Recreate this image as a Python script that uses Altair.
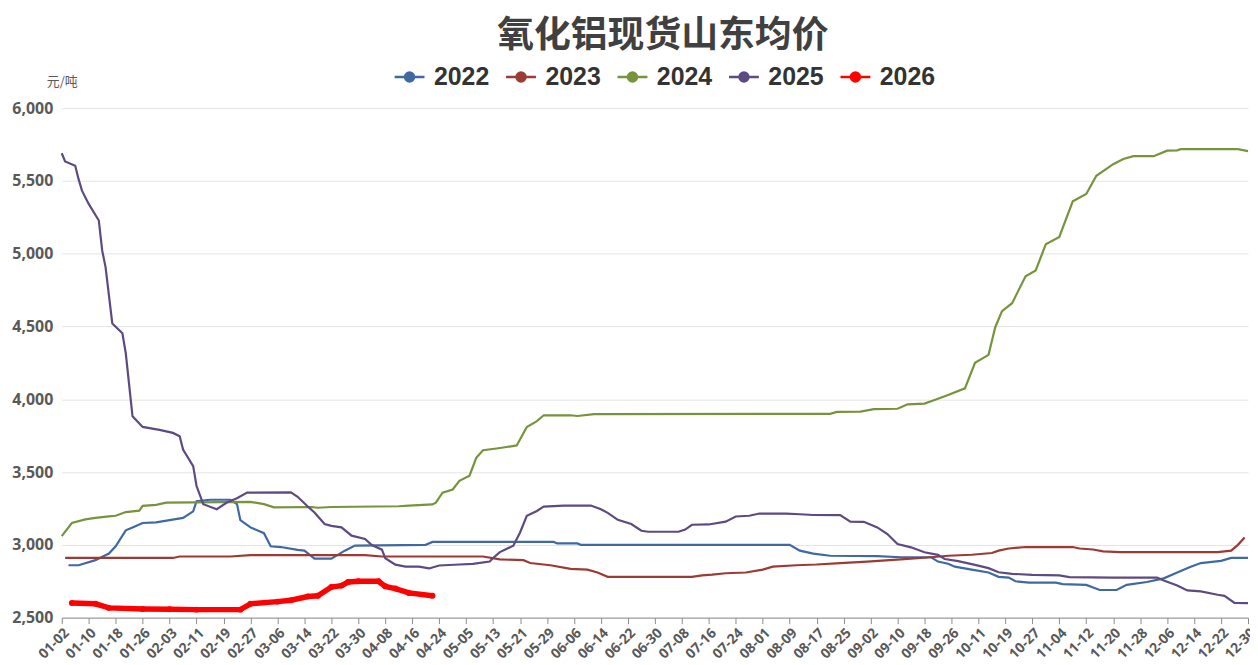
import datetime
import altair as alt
import pandas as pd

# ---------------- data ----------------
years = ["2022", "2023", "2024", "2025", "2026"]
colors = ["#3F69A3", "#9C3B35", "#77933C", "#5E4A82", "#FF0000"]

tick_labels = ["01-02", "01-10", "01-18", "01-26", "02-03", "02-11", "02-19", "02-27",
               "03-06", "03-14", "03-22", "03-30", "04-08", "04-16", "04-24", "05-05",
               "05-13", "05-21", "05-29", "06-06", "06-14", "06-22", "06-30", "07-08",
               "07-16", "07-24", "08-01", "08-09", "08-17", "08-25", "09-02", "09-10",
               "09-18", "09-26", "10-11", "10-19", "10-27", "11-04", "11-12", "11-20",
               "11-28", "12-06", "12-14", "12-22", "12-30"]

holidays = ["04-05", "05-01", "05-02", "05-03", "10-01", "10-02", "10-03", "10-04",
            "10-05", "10-06", "10-07"]

dates_2022 = ["01-04", "01-07", "01-12", "01-16", "01-18", "01-21", "01-23", "01-26", "01-30",
              "02-03", "02-07", "02-10", "02-11", "02-15", "02-21", "02-23", "02-24", "02-27",
              "03-02", "03-04", "03-07", "03-12", "03-14", "03-17", "03-22", "03-26", "03-29",
              "04-20", "04-22", "05-31", "06-01", "06-07", "06-08", "08-09", "08-12", "08-16",
              "08-21", "09-04", "09-11", "09-20", "09-22", "09-25", "09-27", "10-09", "10-14",
              "10-17", "10-20", "10-22", "10-26", "11-03", "11-05", "11-12", "11-16", "11-21",
              "11-24", "11-30", "12-05", "12-09", "12-13", "12-16", "12-22", "12-25", "12-30"]
vals_2022 = [2860, 2860, 2895, 2940, 2990, 3100, 3120, 3150, 3155,
             3170, 3185, 3230, 3300, 3310, 3310, 3280, 3170, 3120,
             3080, 2990, 2985, 2965, 2960, 2905, 2905, 2960, 2995,
             3000, 3020, 3020, 3010, 3010, 3000, 3000, 2960, 2940,
             2925, 2922, 2915, 2915, 2885, 2870, 2850, 2830, 2810,
             2780, 2775, 2750, 2740, 2740, 2730, 2725, 2690, 2690,
             2725, 2745, 2770, 2810, 2850, 2875, 2890, 2910, 2910]

dates_2023 = ["01-03", "02-04", "02-06", "02-21", "02-27", "04-01", "04-07", "05-10", "05-15",
              "05-22", "05-24", "05-30", "06-05", "06-10", "06-13", "06-16", "07-11", "07-14",
              "07-17", "07-21", "07-27", "08-01", "08-04", "08-11", "08-17", "08-24", "09-01",
              "09-11", "09-20", "09-25", "10-09", "10-15", "10-17", "10-20", "10-25", "11-08",
              "11-10", "11-14", "11-17", "11-22", "12-21", "12-25", "12-27", "12-29"]
vals_2023 = [2910, 2910, 2920, 2920, 2930, 2930, 2920, 2920, 2900,
             2895, 2875, 2860, 2835, 2830, 2810, 2780, 2780, 2790,
             2795, 2805, 2810, 2830, 2850, 2860, 2865, 2875, 2885,
             2900, 2915, 2925, 2932, 2944, 2960, 2975, 2985, 2985,
             2975, 2968, 2955, 2950, 2950, 2960, 3000, 3050]

dates_2024 = ["01-02", "01-05", "01-09", "01-12", "01-16", "01-18", "01-21", "01-25", "01-26",
              "01-30", "02-02", "02-27", "03-02", "03-05", "03-16", "03-18", "03-22", "04-12",
              "04-15", "04-22", "04-23", "04-25", "04-28", "04-30", "05-06", "05-08", "05-10",
              "05-14", "05-17", "05-20", "05-23", "05-26", "05-28", "06-05", "06-07", "06-12",
              "08-21", "08-23", "08-30", "09-03", "09-10", "09-13", "09-18", "09-21", "09-25",
              "09-30", "10-10", "10-14", "10-16", "10-18", "10-21", "10-25", "10-28", "10-31",
              "11-04", "11-08", "11-12", "11-15", "11-20", "11-23", "11-26", "12-02", "12-06",
              "12-09", "12-10", "12-27", "12-30"]
vals_2024 = [3060, 3150, 3175, 3185, 3195, 3200, 3225, 3235, 3268,
             3275, 3290, 3295, 3280, 3258, 3260, 3255, 3260, 3265,
             3270, 3278, 3290, 3358, 3380, 3440, 3475, 3598, 3650,
             3662, 3672, 3683, 3810, 3850, 3890, 3890, 3885, 3898,
             3900, 3913, 3915, 3932, 3935, 3965, 3970, 3995, 4030,
             4075, 4250, 4305, 4495, 4605, 4660, 4845, 4885, 5065,
             5115, 5360, 5410, 5535, 5615, 5650, 5670, 5670, 5708,
             5710, 5718, 5718, 5705]

dates_2025 = ["01-02", "01-03", "01-06", "01-07", "01-08", "01-10", "01-13", "01-14", "01-15",
              "01-17", "01-20", "01-21", "01-23", "01-26", "01-31", "02-04", "02-06", "02-07",
              "02-10", "02-11", "02-13", "02-17", "02-20", "02-23", "02-26", "03-10", "03-12",
              "03-15", "03-17", "03-20", "03-22", "03-25", "03-28", "04-01", "04-03", "04-07",
              "04-08", "04-11", "04-14", "04-18", "04-21", "04-24", "04-30", "05-07", "05-12",
              "05-13", "05-15", "05-19", "05-21", "05-23", "05-26", "05-28", "06-03", "06-11",
              "06-14", "06-16", "06-19", "06-23", "06-26", "06-28", "07-07", "07-09", "07-11",
              "07-16", "07-21", "07-24", "07-28", "07-31", "08-08", "08-12", "08-16", "08-24",
              "08-27", "08-31", "09-04", "09-07", "09-10", "09-14", "09-18", "09-22", "09-24",
              "09-28", "10-10", "10-14", "10-17", "10-21", "10-27", "11-04", "11-07", "11-20",
              "12-03", "12-05", "12-09", "12-12", "12-16", "12-21", "12-23", "12-26", "12-30"]
vals_2025 = [5690, 5633, 5604, 5512, 5433, 5342, 5228, 5022, 4908,
             4521, 4453, 4316, 3883, 3810, 3790, 3769, 3746, 3655,
             3541, 3404, 3279, 3245, 3291, 3320, 3359, 3360, 3330,
             3263, 3222, 3143, 3130, 3120, 3063, 3040, 2999, 2967,
             2908, 2864, 2851, 2850, 2838, 2858, 2865, 2869, 2885,
             2910, 2950, 2994, 3085, 3199, 3233, 3263, 3270, 3270,
             3245, 3220, 3172, 3143, 3097, 3090, 3090, 3105, 3138,
             3140, 3159, 3195, 3200, 3215, 3215, 3210, 3205, 3204,
             3160, 3158, 3120, 3074, 3006, 2983, 2949, 2931, 2903,
             2888, 2862, 2840, 2812, 2801, 2794, 2790, 2778, 2775,
             2775, 2755, 2721, 2687, 2680, 2657, 2650, 2602, 2600]

dates_2026 = ["01-05", "01-12", "01-16", "01-26", "02-03", "02-11", "02-24", "02-27", "03-06",
              "03-10", "03-15", "03-18", "03-22", "03-25", "03-27", "03-30", "04-06", "04-08",
              "04-11", "04-15", "04-22"]
vals_2026 = [2600, 2595, 2567, 2560, 2557, 2555, 2555, 2595, 2610,
             2620, 2645, 2650, 2710, 2720, 2745, 2750, 2750, 2715,
             2700, 2670, 2650]

# category axis: every calendar day (leap year) except days closed in every year
categories = []
d = datetime.date(2024, 1, 2)
while d <= datetime.date(2024, 12, 30):
    s = d.strftime("%m-%d")
    if s not in holidays:
        categories.append(s)
    d += datetime.timedelta(days=1)

series = {"2022": (dates_2022, vals_2022), "2023": (dates_2023, vals_2023),
          "2024": (dates_2024, vals_2024), "2025": (dates_2025, vals_2025),
          "2026": (dates_2026, vals_2026)}
rows = []
for y, (ds, vs) in series.items():
    for dd, v in zip(ds, vs):
        rows.append({"date": dd, "value": v, "year": y})
df = pd.DataFrame(rows)

# ---------------- chart ----------------
FONT = "Open Sans"
x_enc = alt.X("date:O", scale=alt.Scale(type="point", domain=categories, padding=0),
              axis=alt.Axis(values=tick_labels, labelAngle=-45, title=None,
                            labelFont=FONT, labelFontWeight="bold", labelFontSize=14,
                            labelColor="#595959", domainColor="#8c8c8c", tickColor="#8c8c8c",
                            tickSize=6, labelPadding=2, grid=False))
y_enc = alt.Y("value:Q", scale=alt.Scale(domain=[2500, 6000], nice=False, zero=False),
              axis=alt.Axis(values=[2500, 3000, 3500, 4000, 4500, 5000, 5500, 6000],
                            format=",.0f", domain=False, ticks=False, grid=True,
                            gridColor="#e4e4e4", labelFont=FONT, labelFontWeight="bold",
                            labelFontSize=16, labelColor="#595959", labelPadding=9,
                            title="元/吨", titleAngle=0, titleX=0, titleY=-27,
                            titleAlign="center", titleBaseline="middle",
                            titleFont="Noto Sans CJK SC", titleFontSize=13,
                            titleFontWeight="normal", titleColor="#595959"))

color_scale = alt.Scale(domain=years, range=colors)
legend_symbol = ("M-1,0L1,0M0.3,0A0.3,0.3,0,1,1,-0.3,0A0.3,0.3,0,1,1,0.3,0"
                 "M0.2,0A0.2,0.2,0,1,1,-0.2,0A0.2,0.2,0,1,1,0.2,0"
                 "M0.1,0A0.1,0.1,0,1,1,-0.1,0A0.1,0.1,0,1,1,0.1,0")

base = alt.Chart(df)
thin = base.transform_filter(alt.datum.year != "2026").mark_line(strokeWidth=2.2).encode(
    x=x_enc, y=y_enc,
    color=alt.Color("year:N", scale=color_scale,
                    legend=alt.Legend(orient="none", legendX=333, legendY=-48,
                                      direction="horizontal", title=None,
                                      symbolType=legend_symbol, symbolSize=900,
                                      symbolStrokeWidth=2.5, labelFont="Liberation Sans",
                                      labelFontSize=25, labelFontWeight="bold",
                                      labelColor="#333333", labelOffset=8,
                                      columnPadding=11, padding=0)),
    detail="year:N")

red = base.transform_filter(alt.datum.year == "2026")
red_line = red.mark_line(strokeWidth=5.5, color="#FF0000").encode(x=x_enc, y=y_enc)
red_pts = red.mark_circle(size=36, color="#FF0000", opacity=1).encode(x=x_enc, y=y_enc)

chart = alt.layer(thin, red_line, red_pts).properties(
    width=1192, height=512,
    autosize=alt.AutoSizeParams(type="none"),
    padding={"left": 54, "top": 99, "right": 2, "bottom": 46},
    title=alt.TitleParams("氧化铝现货山东均价", font="Noto Sans CJK SC", fontSize=37,
                          fontWeight="bold", color="#404040", anchor="middle", offset=5, dx=8),
    background="white",
).configure_view(stroke=None)

chart.save("out.html", embed_options={"renderer": "svg", "actions": False})
